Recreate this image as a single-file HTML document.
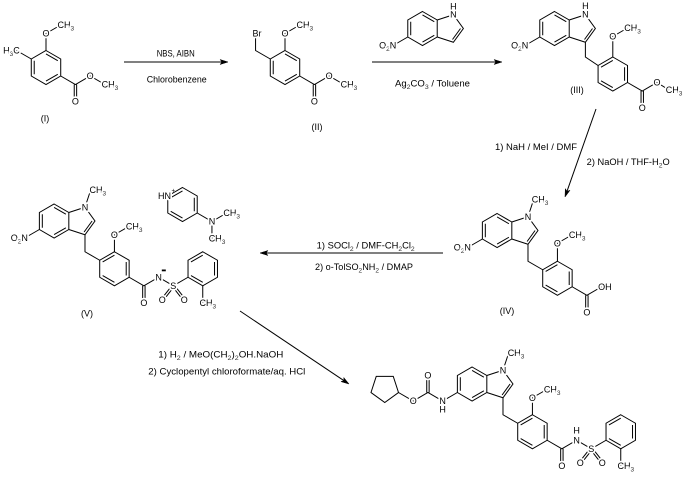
<!DOCTYPE html>
<html><head><meta charset="utf-8"><style>
html,body{margin:0;padding:0;background:#fff;}
svg{display:block;}
text{font-family:"Liberation Sans",Arial,sans-serif;font-size:9px;fill:#000;}
.a{stroke:#fff;stroke-width:3.5px;paint-order:stroke;stroke-linejoin:round;}
.s{font-size:6.5px;fill:#333;}
.b{fill:none;stroke:#000;stroke-width:1;}
</style></head><body>
<svg width="690" height="478" viewBox="0 0 690 478" xmlns="http://www.w3.org/2000/svg">
<g class="b">
<!-- Compound I -->
<polygon points="46,50.5 60.72,59 60.72,76 46,84.5 31.28,76 31.28,59"/>
<path d="M46,53.9 L57.78,60.7 M57.78,74.3 L46,81.1 M34.22,74.3 L34.22,60.7 M46,50.5 L46,33.5 L60.72,25 M31.28,59 L16.56,50.5 M60.72,76 L75.44,84.5 L90.16,76 L104.88,84.5 M74.24,84.5 L74.24,101.5 M76.64,84.5 L76.64,101.5"/>
<!-- Compound II -->
<polygon points="285,50.5 299.72,59 299.72,76 285,84.5 270.28,76 270.28,59"/>
<path d="M285,53.9 L296.78,60.7 M296.78,74.3 L285,81.1 M273.22,74.3 L273.22,60.7 M285,50.5 L285,33.5 L299.72,25 M270.28,59 L255.56,50.5 L255.56,33.5 M299.72,76 L314.44,84.5 L329.16,76 L343.88,84.5 M313.24,84.5 L313.24,101.5 M315.64,84.5 L315.64,101.5"/>
<!-- Arrows 1,2 -->
<path d="M124,62 L222,62 M372,62 L496,62"/>
<!-- Reagent indole -->
<polygon points="422.5,11.5 437.22,20 437.22,37 422.5,45.5 407.78,37 407.78,20"/>
<path d="M410.72,35.3 L410.72,21.7 M422.5,14.9 L434.28,21.7 M434.28,35.3 L422.5,42.1 M437.22,20 L453.39,14.75 L463.38,28.5 L453.39,42.25 L437.22,37 M460.49,28.5 L452.5,39.5 M407.78,37 L393.06,45.5"/>
<!-- Compound III -->
<polygon points="554.5,11.5 569.22,20 569.22,37 554.5,45.5 539.78,37 539.78,20"/>
<path d="M542.72,35.3 L542.72,21.7 M554.5,14.9 L566.28,21.7 M566.28,35.3 L554.5,42.1 M569.22,20 L585.39,14.75 L595.38,28.5 L585.39,42.25 L569.22,37 M592.49,28.5 L584.5,39.5 M539.78,37 L525.06,45.5 M585.39,42.25 L585.39,57 L598.08,65.5"/>
<polygon points="612.8,57 627.52,65.5 627.52,82.5 612.8,91 598.08,82.5 598.08,65.5"/>
<path d="M624.58,67.2 L624.58,80.8 M612.8,87.6 L601.02,80.8 M601.02,67.2 L612.8,60.4 M612.8,57 L612.8,36.5 L627.52,28 M627.52,82.5 L642.24,91 L656.96,82.5 L669,90 M641.04,91 L641.04,108 M643.44,91 L643.44,108"/>
<!-- Arrow 3 -->
<path d="M596,109 L566.99,191.34"/>
<!-- Compound IV -->
<polygon points="497.1,213.5 511.82,222 511.82,239 497.1,247.5 482.38,239 482.38,222"/>
<path d="M485.32,237.3 L485.32,223.7 M497.1,216.9 L508.88,223.7 M508.88,237.3 L497.1,244.1 M511.82,222 L527.99,216.75 L537.98,230.5 L527.99,244.25 L511.82,239 M535.09,230.5 L527.1,241.5 M527.99,216.75 L533.3,200.6 M482.38,239 L467.66,247.5 M527.99,244.25 L527.99,261.25 L542.71,269.75"/>
<polygon points="557.43,261.25 572.15,269.75 572.15,286.75 557.43,295.25 542.71,286.75 542.71,269.75"/>
<path d="M569.21,271.45 L569.21,285.05 M557.43,291.85 L545.65,285.05 M545.65,271.45 L557.43,264.65 M557.43,261.25 L557.43,243.25 L572.15,234.75 M572.15,286.75 L586.87,295.25 L601.59,286.75 M585.67,295.25 L585.67,312.25 M588.07,295.25 L588.07,312.25"/>
<!-- Arrow 4 -->
<path d="M443,253 L266,253"/>
<!-- Compound V -->
<polygon points="54.1,204 68.82,212.5 68.82,229.5 54.1,238 39.38,229.5 39.38,212.5"/>
<path d="M42.32,227.8 L42.32,214.2 M54.1,207.4 L65.88,214.2 M65.88,227.8 L54.1,234.6 M68.82,212.5 L84.99,207.25 L94.98,221 L84.99,234.75 L68.82,229.5 M92.09,221 L84.1,232 M84.99,207.25 L90.3,191.1 M39.38,229.5 L24.66,238 M84.99,234.75 L84.99,251.75 L99.71,260.25"/>
<polygon points="114.43,251.75 129.15,260.25 129.15,277.25 114.43,285.75 99.71,277.25 99.71,260.25"/>
<path d="M126.21,261.95 L126.21,275.55 M114.43,282.35 L102.65,275.55 M102.65,261.95 L114.43,255.15 M114.43,251.75 L114.43,234.75 L129.15,226.25 M129.15,277.25 L143.87,285.75 L158.59,277.25 L173.31,285.75 L188.03,277.25 M142.67,285.75 L142.67,302.75 M145.07,285.75 L145.07,302.75 M172.37,285.01 L161.36,299.01 M174.25,286.49 L163.24,300.49 M174.25,285.01 L185.24,299.01 M172.37,286.49 L183.36,300.49"/>
<polygon points="202.75,251.75 217.47,260.25 217.47,277.25 202.75,285.75 188.03,277.25 188.03,260.25"/>
<path d="M214.53,261.95 L214.53,275.55 M202.75,282.35 L190.97,275.55 M190.97,261.95 L202.75,255.15 M202.75,285.75 L202.75,302.75"/>
<!-- DMAP-H+ -->
<polygon points="182.5,187.5 197.22,196 197.22,213 182.5,221.5 167.78,213 167.78,196"/>
<path d="M170.72,197.7 L182.5,190.9 M194.28,197.7 L194.28,211.3 M182.5,218.1 L170.72,211.3 M197.22,213 L211.94,221.5 L226.66,213 M211.94,221.5 L211.94,238.5"/>
<!-- Arrow 5 -->
<path d="M240,311 L344.01,380.66"/>
<!-- Final product -->
<polygon points="472.1,367 486.82,375.5 486.82,392.5 472.1,401 457.38,392.5 457.38,375.5"/>
<path d="M460.32,390.8 L460.32,377.2 M472.1,370.4 L483.88,377.2 M483.88,390.8 L472.1,397.6 M486.82,375.5 L502.99,370.25 L512.98,384 L502.99,397.75 L486.82,392.5 M510.09,384 L502.1,395 M502.99,370.25 L508.3,354.1 M457.38,392.5 L442.66,401 L427.94,392.5 L413.22,401 L398.5,392.5 M426.74,392.5 L426.74,375.5 M429.14,392.5 L429.14,375.5 M502.99,397.75 L502.99,414.75 L517.71,423.25"/>
<polygon points="398.5,392.5 393.25,376.33 376.25,376.33 371,392.5 384.75,402.49"/>
<polygon points="532.43,414.75 547.15,423.25 547.15,440.25 532.43,448.75 517.71,440.25 517.71,423.25"/>
<path d="M544.21,424.95 L544.21,438.55 M532.43,445.35 L520.65,438.55 M520.65,424.95 L532.43,418.15 M532.43,414.75 L532.43,397.75 L547.15,389.25 M547.15,440.25 L561.87,448.75 L576.59,440.25 L591.31,448.75 L606.03,440.25 M560.67,448.75 L560.67,465.75 M563.07,448.75 L563.07,465.75 M590.37,448.01 L579.36,462.01 M592.25,449.49 L581.24,463.49 M592.25,448.01 L603.24,462.01 M590.37,449.49 L601.36,463.49"/>
<polygon points="620.75,414.75 635.47,423.25 635.47,440.25 620.75,448.75 606.03,440.25 606.03,423.25"/>
<path d="M632.53,424.95 L632.53,438.55 M620.75,445.35 L608.97,438.55 M608.97,424.95 L620.75,418.15 M620.75,448.75 L620.75,465.75"/>
</g>
<!-- arrowheads -->
<g fill="#000" stroke="#000" stroke-width="0.5">
<polygon points="228,62 220,59.5 222,62 220,64.5"/>
<polygon points="502,62 494,59.5 496,62 494,64.5"/>
<polygon points="565,197 570.02,190.29 566.99,191.34 565.3,188.63"/>
<polygon points="260,253 268,250.5 266,253 268,255.5"/>
<polygon points="349,384 340.96,381.63 344.01,380.66 343.74,377.47"/>
</g>
<rect x="161.8" y="269.5" width="4" height="1.8" fill="#000"/>

<!-- atom labels -->
<g>
<!-- I -->
<text class="a" x="46" y="36.7" text-anchor="middle">O</text>
<text class="a" x="57.5" y="28.2">CH<tspan class="s" dy="2.5">3</tspan></text>
<text class="a" x="19.8" y="53.7" text-anchor="end">H<tspan class="s" dy="2.5">3</tspan><tspan dy="-2.5">C</tspan></text>
<text class="a" x="90.16" y="79.2" text-anchor="middle">O</text>
<text class="a" x="101.6" y="87.7">CH<tspan class="s" dy="2.5">3</tspan></text>
<text class="a" x="75.44" y="104.7" text-anchor="middle">O</text>
<text x="45" y="121.5" text-anchor="middle">(I)</text>
<!-- II -->
<text class="a" x="285" y="36.7" text-anchor="middle">O</text>
<text class="a" x="296.5" y="28.2">CH<tspan class="s" dy="2.5">3</tspan></text>
<text class="a" x="252.5" y="36.7">Br</text>
<text class="a" x="329.16" y="79.2" text-anchor="middle">O</text>
<text class="a" x="340.6" y="87.7">CH<tspan class="s" dy="2.5">3</tspan></text>
<text class="a" x="314.44" y="104.7" text-anchor="middle">O</text>
<text x="317" y="130" text-anchor="middle">(II)</text>
<!-- reagent indole -->
<text class="a" x="453.39" y="17.5" text-anchor="middle">N</text>
<text class="a" x="453.39" y="9.5" text-anchor="middle">H</text>
<text class="a" x="396.3" y="48.7" text-anchor="end">O<tspan class="s" dy="2.5">2</tspan><tspan dy="-2.5">N</tspan></text>
<!-- III -->
<text class="a" x="585.39" y="17.5" text-anchor="middle">N</text>
<text class="a" x="585.39" y="9" text-anchor="middle">H</text>
<text class="a" x="528.3" y="48.7" text-anchor="end">O<tspan class="s" dy="2.5">2</tspan><tspan dy="-2.5">N</tspan></text>
<text class="a" x="612.8" y="39.7" text-anchor="middle">O</text>
<text class="a" x="624.3" y="31.2">CH<tspan class="s" dy="2.5">3</tspan></text>
<text class="a" x="656.96" y="85.7" text-anchor="middle">O</text>
<text class="a" x="665.8" y="93.2">CH<tspan class="s" dy="2.5">3</tspan></text>
<text class="a" x="642.24" y="111.2" text-anchor="middle">O</text>
<text x="577" y="93.2" text-anchor="middle">(III)</text>
<!-- IV -->
<text class="a" x="527.99" y="219.95" text-anchor="middle">N</text>
<text class="a" x="531.8" y="202.5">CH<tspan class="s" dy="2.5">3</tspan></text>
<text class="a" x="470.9" y="250.7" text-anchor="end">O<tspan class="s" dy="2.5">2</tspan><tspan dy="-2.5">N</tspan></text>
<text class="a" x="557.43" y="246.45" text-anchor="middle">O</text>
<text class="a" x="568.9" y="237.95">CH<tspan class="s" dy="2.5">3</tspan></text>
<text class="a" x="598.1" y="289.95">OH</text>
<text class="a" x="586.87" y="315.45" text-anchor="middle">O</text>
<text x="507" y="314" text-anchor="middle">(IV)</text>
<!-- V -->
<text class="a" x="84.99" y="210.45" text-anchor="middle">N</text>
<text class="a" x="89.5" y="193">CH<tspan class="s" dy="2.5">3</tspan></text>
<text class="a" x="27.9" y="241.2" text-anchor="end">O<tspan class="s" dy="2.5">2</tspan><tspan dy="-2.5">N</tspan></text>
<text class="a" x="114.43" y="237.95" text-anchor="middle">O</text>
<text class="a" x="125.9" y="229.45">CH<tspan class="s" dy="2.5">3</tspan></text>
<text class="a" x="143.87" y="305.95" text-anchor="middle">O</text>
<text class="a" x="158.59" y="280.45" text-anchor="middle">N</text>
<text class="a" x="173.31" y="288.95" text-anchor="middle">S</text>
<text class="a" x="162.3" y="302.95" text-anchor="middle">O</text>
<text class="a" x="184.3" y="302.95" text-anchor="middle">O</text>
<text class="a" x="199.5" y="305.95">CH<tspan class="s" dy="2.5">3</tspan></text>
<text x="87" y="316.5" text-anchor="middle">(V)</text>
<!-- DMAP -->
<text class="a" x="171.03" y="199.2" text-anchor="end">HN</text>
<text x="171.5" y="192.5" style="font-size:6px">+</text>
<text class="a" x="211.94" y="224.7" text-anchor="middle">N</text>
<text class="a" x="223.4" y="216.2">CH<tspan class="s" dy="2.5">3</tspan></text>
<text class="a" x="208.7" y="241.7">CH<tspan class="s" dy="2.5">3</tspan></text>
<!-- Final -->
<text class="a" x="502.99" y="373.45" text-anchor="middle">N</text>
<text class="a" x="507.7" y="356.2">CH<tspan class="s" dy="2.5">3</tspan></text>
<text class="a" x="427.94" y="378.7" text-anchor="middle">O</text>
<text class="a" x="413.22" y="404.2" text-anchor="middle">O</text>
<text class="a" x="442.66" y="404.2" text-anchor="middle">N</text>
<text class="a" x="442.66" y="412.5" text-anchor="middle">H</text>
<text class="a" x="532.43" y="400.95" text-anchor="middle">O</text>
<text class="a" x="543.9" y="392.45">CH<tspan class="s" dy="2.5">3</tspan></text>
<text class="a" x="561.87" y="468.95" text-anchor="middle">O</text>
<text class="a" x="576.59" y="443.45" text-anchor="middle">N</text>
<text class="a" x="576.59" y="433.5" text-anchor="middle">H</text>
<text class="a" x="591.31" y="451.95" text-anchor="middle">S</text>
<text class="a" x="580.3" y="465.95" text-anchor="middle">O</text>
<text class="a" x="602.3" y="465.95" text-anchor="middle">O</text>
<text class="a" x="617.5" y="468.95">CH<tspan class="s" dy="2.5">3</tspan></text>
</g>

<!-- reagent texts -->
<text x="156.7" y="56.5" textLength="38" lengthAdjust="spacingAndGlyphs">NBS, AIBN</text>
<text x="146.7" y="82.5" textLength="60" lengthAdjust="spacingAndGlyphs">Chlorobenzene</text>
<text x="395" y="86.5" textLength="75" lengthAdjust="spacingAndGlyphs">Ag<tspan class="s" dy="2.5">2</tspan><tspan dy="-2.5">CO</tspan><tspan class="s" dy="2.5">3</tspan><tspan dy="-2.5"> / Toluene</tspan></text>
<text x="495" y="150.2" textLength="82" lengthAdjust="spacingAndGlyphs">1) NaH / MeI / DMF</text>
<text x="586.7" y="165" textLength="83" lengthAdjust="spacingAndGlyphs">2) NaOH / THF-H<tspan class="s" dy="2.5">2</tspan><tspan dy="-2.5">O</tspan></text>
<text x="316.7" y="248.5" textLength="98" lengthAdjust="spacingAndGlyphs">1) SOCl<tspan class="s" dy="2.5">2</tspan><tspan dy="-2.5"> / DMF-CH</tspan><tspan class="s" dy="2.5">2</tspan><tspan dy="-2.5">Cl</tspan><tspan class="s" dy="2.5">2</tspan></text>
<text x="315" y="270" textLength="98" lengthAdjust="spacingAndGlyphs">2) o-TolSO<tspan class="s" dy="2.5">2</tspan><tspan dy="-2.5">NH</tspan><tspan class="s" dy="2.5">2</tspan><tspan dy="-2.5"> / DMAP</tspan></text>
<text x="158.3" y="357.5" textLength="125" lengthAdjust="spacingAndGlyphs">1) H<tspan class="s" dy="2.5">2</tspan><tspan dy="-2.5"> / MeO(CH</tspan><tspan class="s" dy="2.5">2</tspan><tspan dy="-2.5">)</tspan><tspan class="s" dy="2.5">2</tspan><tspan dy="-2.5">OH.NaOH</tspan></text>
<text x="148.3" y="374.5" textLength="157" lengthAdjust="spacingAndGlyphs">2) Cyclopentyl chloroformate/aq. HCl</text>
</svg>
</body></html>
